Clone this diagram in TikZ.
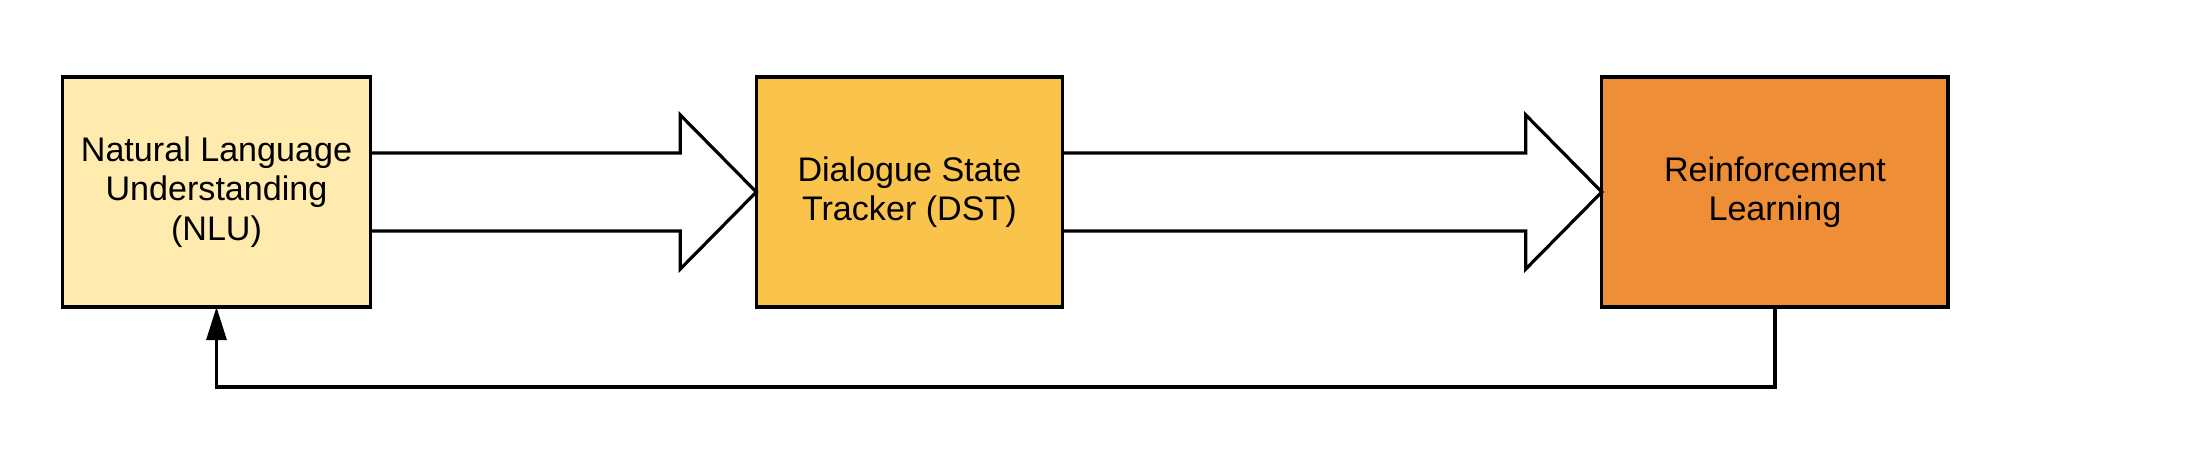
\documentclass[tikz,border=0pt]{standalone}
\usepackage{fontspec}
\setmainfont{Liberation Sans}
\usetikzlibrary{positioning,calc,arrows.meta}
\definecolor{nluyellow}{HTML}{FFEBAD}
\definecolor{dstyellow}{HTML}{FAC34C}
\definecolor{rlorange}{HTML}{EE8E36}
\begin{document}
\begin{tikzpicture}[x=0.01cm,y=0.01cm,
    stage/.style={draw=black, line width=0.9pt, minimum height=2.3cm, outer sep=0pt,
        align=center, font=\fontsize{9.7}{11.2}\selectfont},
    blockarrow/.style={draw=black, line width=0.9pt, line join=miter},
    feedback/.style={draw=black, line width=0.9pt, -{Triangle[length=3.3mm,width=2mm]}}]
                \useasboundingbox (0,0) rectangle (2206,448);
                \node[stage, fill=nluyellow, minimum width=3.07cm] (nlu) at (216.5,256) {Natural Language\\Understanding\\(NLU)};
                \node[stage, fill=dstyellow, minimum width=3.06cm, right=3.86cm of nlu] (dst) {Dialogue State\\Tracker (DST)};
                \node[stage, fill=rlorange, minimum width=3.46cm, right=5.39cm of dst] (rl) {Reinforcement\\Learning};
                \draw[blockarrow] ($(nlu.east)+(0,39)$) -- ($(dst.west)+(-76,39)$) -- ($(dst.west)+(-76,77)$) -- (dst.west)
                    -- ($(dst.west)+(-76,-77)$) -- ($(dst.west)+(-76,-39)$) -- ($(nlu.east)+(0,-39)$);
                \draw[blockarrow] ($(dst.east)+(0,39)$) -- ($(rl.west)+(-76,39)$) -- ($(rl.west)+(-76,77)$) -- (rl.west)
                    -- ($(rl.west)+(-76,-77)$) -- ($(rl.west)+(-76,-39)$) -- ($(dst.east)+(0,-39)$);
                \draw[feedback] (rl.south) -- ++(0,-80) -| (nlu.south);
                \end{tikzpicture}
\end{document}
